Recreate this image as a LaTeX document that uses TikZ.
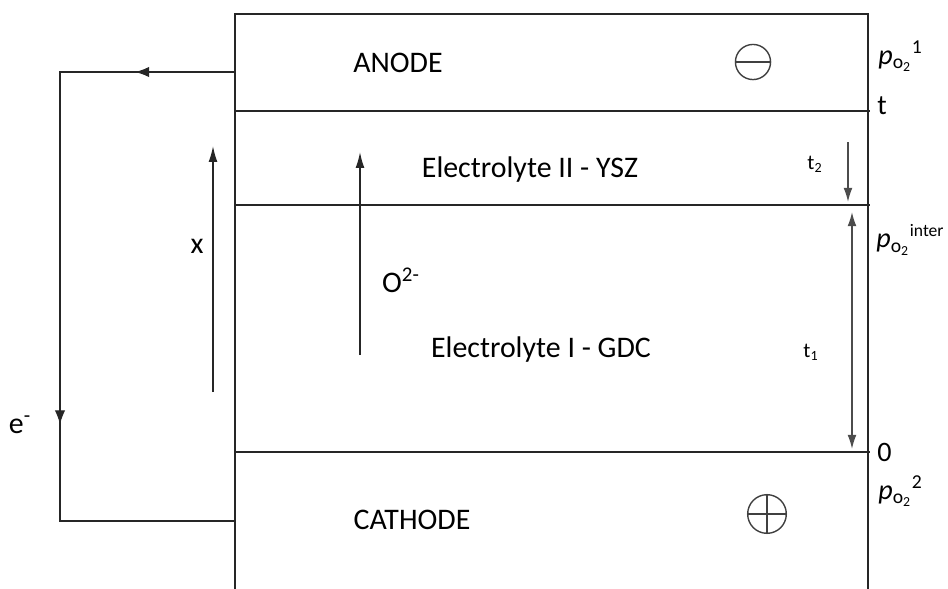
\documentclass[tikz,border=0pt]{standalone}
\usepackage{fontspec}
\setmainfont{Carlito}
\usetikzlibrary{arrows.meta,decorations.markings}
\begin{document}
\begin{tikzpicture}
    %Fuel cell layers
    	[x=0.02cm,y=-0.02cm,
    	 layer/.style={line width=0.8pt,black!85},
    	 wire/.style={line width=0.8pt,black!85},
    	 flow/.style={line width=0.8pt,black!85,-{Latex[length=9pt,width=5pt]}},
    	 dim/.style={line width=0.8pt,black!70,{Latex[length=8pt,width=5pt]}-{Latex[length=8pt,width=5pt]}},
    	 lbl/.style={font=\fontsize{17}{19}\selectfont,inner sep=0pt},
    	 side/.style={font=\fontsize{16}{18}\selectfont,inner sep=0pt,anchor=west}]
    \useasboundingbox (0,0) rectangle (948,589);

    %draw the outline and the layer boundaries
    \draw[layer] (235,589) -- (235,14) -- (868,14) -- (868,589);
    \draw[layer] (235,111) -- (870,111);
    \draw[layer] (235,205) -- (870,205);
    \draw[layer] (235,452) -- (870,452);

    %layer names
    \node[lbl] (anode)   at (398,63)  {ANODE};
    \node[lbl] (ysz)     at (530,170) {Electrolyte II - YSZ};
    \node[lbl] (gdc)     at (541,350) {Electrolyte I - GDC};
    \node[lbl] (cathode) at (412,520) {CATHODE};

    %signs
    \draw[line width=0.8pt,black!75] (753,62) circle(10pt);
    \draw[line width=0.8pt,black!75] (735,62) -- (771,62);
    \draw[line width=0.8pt,black!75] (767,514) circle(11pt);
    \draw[line width=0.8pt,black!75] (748,514) -- (786,514);
    \draw[line width=0.8pt,black!75] (767,495) -- (767,533);

    %external circuit
    \coordinate (an) at (235,72);
    \coordinate (c1) at (60,72);
    \coordinate (c2) at (60,521);
    \coordinate (ca) at (235,521);
    \draw[wire,postaction={decorate},decoration={markings,
          mark=at position 0.125 with {\arrow{Latex[length=8pt,width=6pt]}},
          mark=at position 0.66 with {\arrow{Latex[length=8pt,width=6pt]}}}]
          (an) -- (c1) -- (c2) -- (ca);
    \node[lbl] (e) at (20,425) {e\textsuperscript{-}};

    %x and ion arrows
    \coordinate (x0) at (213,392);
    \coordinate (x1) at (213,146);
    \draw[flow] (x0) -- (x1);
    \node[lbl] (xl) at (197,246) {x};
    \coordinate (o0) at (360,355);
    \coordinate (o1) at (360,152);
    \draw[flow] (o0) -- (o1);
    \node[lbl] (ion) at (401,280) {O\textsuperscript{2-}};

    %thicknesses
    \coordinate (t2a) at (848,142);
    \coordinate (t2b) at (848,202);
    \draw[line width=0.8pt,black!70,-{Latex[length=8pt,width=5pt]}] (t2a) -- (t2b);
    \node[font=\fontsize{12}{14}\selectfont] (t2) at (815,164) {t\textsubscript{2}};
    \coordinate (t1a) at (852,212);
    \coordinate (t1b) at (852,449);
    \draw[dim] (t1a) -- (t1b);
    \node[font=\fontsize{12}{14}\selectfont] (t1) at (811,352) {t\textsubscript{1}};

    %right side labels
    \node[side] (p1) at (878,56)  {\textit{p}\textsubscript{o\textsubscript{2}}\textsuperscript{1}};
    \node[side] (tt) at (877,106) {t};
    \node[side] (pi) at (876,240) {\textit{p}\textsubscript{o\textsubscript{2}}\textsuperscript{{\fontsize{10}{12}\selectfont inter}}};
    \node[side] (z)  at (877,452) {0};
    \node[side] (p2) at (878,491) {\textit{p}\textsubscript{o\textsubscript{2}}\textsuperscript{2}};
\end{tikzpicture}
\end{document}
